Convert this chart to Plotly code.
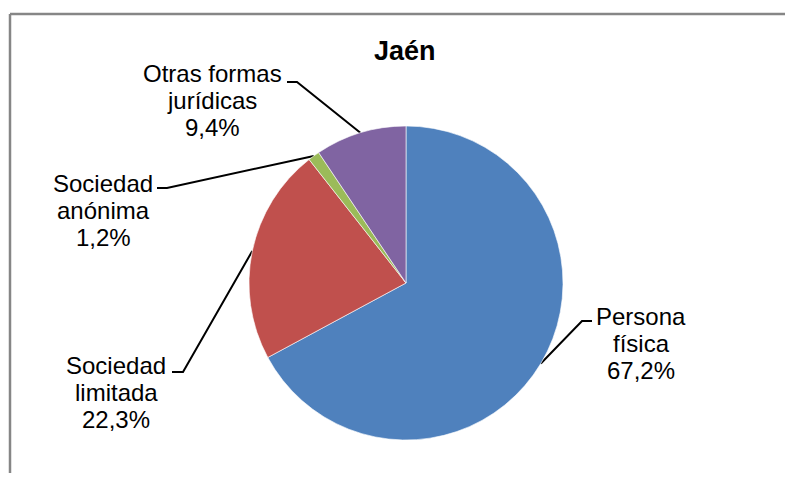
import numpy as np
import plotly.graph_objects as go

# data
categories = ['Persona<br>física', 'Sociedad<br>limitada', 'Sociedad<br>anónima', 'Otras formas<br>jurídicas']
shares = [67.2, 22.3, 1.2, 9.4]
colors = ['#4F81BD', '#C0504D', '#9BBB59', '#8064A2']

# page body has an 8px margin, so the figure is sized to fit inside the window
PAD = 8
W, H = 793 - 2 * PAD, 485 - 2 * PAD - 4
cx, cy, r = 406, 283, 157  # window pixels

# label placement (window pixels): text centre x, block centre y, elbow of leader line, stub end
label_pos = [
    dict(tx=641, ty=343, elbow=(582, 321), stub=(592, 321)),
    dict(tx=116, ty=392, elbow=(183, 372), stub=(172, 372)),
    dict(tx=103, ty=210, elbow=(167, 188), stub=(157, 188)),
    dict(tx=212, ty=100, elbow=(297, 82), stub=(287, 82)),
]
line_gap = 27
FONT = 'Liberation Sans, Arial, sans-serif'

fig = go.Figure()

fig.add_trace(go.Pie(
    values=shares, labels=categories, sort=False, direction='clockwise', rotation=0,
    marker=dict(colors=colors, line=dict(color='white', width=0.6)),
    textinfo='none', hoverinfo='skip', showlegend=False,
    domain=dict(x=[(cx - r - PAD) / W, (cx + r - PAD) / W],
                y=[1 - (cy + r - PAD) / H, 1 - (cy - r - PAD) / H]),
))

# leader lines and labels, from each slice's mid angle
vals = np.array(shares)
cum = np.cumsum(vals) / vals.sum()
mids = (cum - vals / vals.sum() / 2) * 2 * np.pi
annotations = []
for name, v, ang, p in zip(categories, shares, mids, label_pos):
    ex, ey = cx + r * np.sin(ang), cy - r * np.cos(ang)
    fig.add_trace(go.Scatter(
        x=[ex, p['elbow'][0], p['stub'][0]], y=[ey, p['elbow'][1], p['stub'][1]],
        mode='lines', line=dict(color='black', width=2), hoverinfo='skip',
        showlegend=False, xaxis='x', yaxis='y'))
    lines = name.split('<br>') + [f"{v:.1f}".replace('.', ',') + '%']
    y0 = p['ty'] - line_gap * (len(lines) - 1) / 2
    for i, t in enumerate(lines):
        annotations.append(dict(x=p['tx'], y=y0 + i * line_gap, text=t, showarrow=False,
                                xref='x', yref='y', xanchor='center', yanchor='middle',
                                font=dict(family=FONT, size=24, color='black')))

annotations.append(dict(x=405, y=51, text='<b>Jaén</b>', showarrow=False, xref='x', yref='y',
                        font=dict(family=FONT, size=27, color='black')))

# chart frame: only its left and top edges fall inside the window
frame = dict(color='#868686', width=2.5)
fig.update_layout(
    width=W, height=H, margin=dict(l=0, r=0, t=0, b=0),
    paper_bgcolor='white', plot_bgcolor='rgba(0,0,0,0)',
    xaxis=dict(range=[PAD, PAD + W], visible=False, fixedrange=True),
    yaxis=dict(range=[PAD + H, PAD], visible=False, fixedrange=True),
    annotations=annotations,
    shapes=[dict(type='line', xref='x', yref='y', x0=10, y0=14, x1=10, y1=PAD + H, line=frame, layer='below'),
            dict(type='line', xref='x', yref='y', x0=10, y0=14, x1=PAD + W, y1=14, line=frame, layer='below')],
)

fig.write_html('out.html')
